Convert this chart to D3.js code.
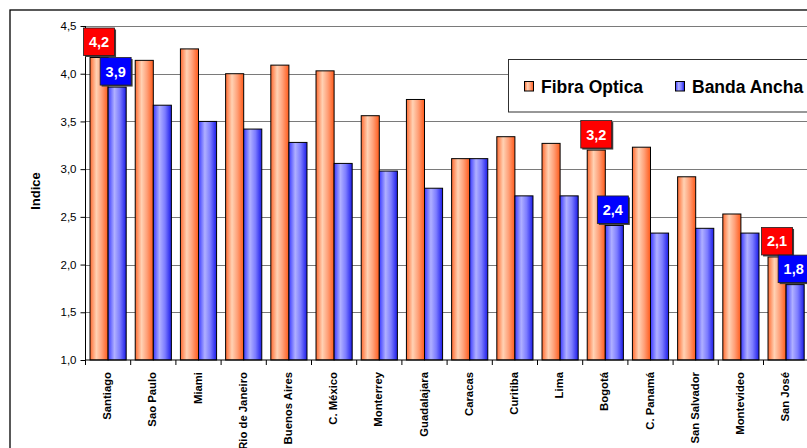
<!DOCTYPE html>
<html>
<head>
<meta charset="utf-8">
<script src="https://cdn.jsdelivr.net/npm/d3@7"></script>
<style>
  body { margin: 0; background: #fff; }
  svg { display: block; font-family: Arial, "Liberation Sans", sans-serif; }
</style>
</head>
<body>
<svg id="chart"></svg>
<script>
var ciudades = ["Santiago", "Sao Paulo", "Miami", "Rio de Janeiro", "Buenos Aires", "C. México",
  "Monterrey", "Guadalajara", "Caracas", "Curitiba", "Lima", "Bogotá", "C. Panamá",
  "San Salvador", "Montevideo", "San José"];
var fibraOptica = [4.17, 4.14, 4.26, 4.00, 4.09, 4.03, 3.56, 3.73, 3.11, 3.34, 3.27, 3.20, 3.23, 2.92, 2.53, 2.08];
var bandaAncha = [3.86, 3.67, 3.50, 3.42, 3.28, 3.06, 2.98, 2.80, 3.11, 2.72, 2.72, 2.41, 2.33, 2.38, 2.33, 1.79];
var series = ["Fibra Optica", "Banda Ancha"];
var yTicks = [1.0, 1.5, 2.0, 2.5, 3.0, 3.5, 4.0, 4.5];
// cities whose values get a callout box
var destacados = ["Santiago", "Bogotá", "San José"];

var screen = {width: 807, height: 448};
var plot = {left: 85.5, top: 26, right: 808.7, bottom: 360};

var svg = d3.select("#chart")
  .attr("width", screen.width)
  .attr("height", screen.height);

var defs = svg.append("defs");
var grad = function(id, stops) {
  var g = defs.append("linearGradient").attr("id", id)
    .attr("x1", "0%").attr("x2", "100%").attr("y1", "0%").attr("y2", "0%");
  stops.forEach(function(s) {
    g.append("stop").attr("offset", s[0]).attr("stop-color", s[1]);
  });
};
grad("gOrange", [["0%", "#ff6a30"], ["35%", "#ffd2b4"], ["65%", "#ffa078"], ["100%", "#ff5a1a"]]);
grad("gBlue", [["0%", "#3a3aff"], ["35%", "#b0b0ff"], ["65%", "#7c7cff"], ["100%", "#1c1ce8"]]);

// outer frame
svg.append("rect")
  .attr("x", 10).attr("y", 10)
  .attr("width", 900).attr("height", 500)
  .attr("fill", "#fff").attr("stroke", "#000").attr("stroke-width", 1.3);

var xScale = d3.scaleBand().domain(ciudades).range([plot.left, plot.right]).paddingInner(0.2).paddingOuter(0.1);
var xSub = d3.scaleBand().domain(series).range([0, xScale.bandwidth()]);
var yScale = d3.scaleLinear().domain([1, 4.5]).range([plot.bottom, plot.top]);

// gridlines
svg.append("g")
  .selectAll("line")
  .data(yTicks.slice(1))
  .enter()
  .append("line")
  .attr("x1", plot.left).attr("x2", plot.right)
  .attr("y1", function(d) { return Math.round(yScale(d)) + 0.5; })
  .attr("y2", function(d) { return Math.round(yScale(d)) + 0.5; })
  .attr("stroke", "#7a7a7a").attr("stroke-width", 1);

// bars
var rows = ciudades.map(function(c, i) {
  return {ciudad: c, vals: [fibraOptica[i], bandaAncha[i]]};
});
var fills = ["url(#gOrange)", "url(#gBlue)"];

var groups = svg.append("g")
  .selectAll("g")
  .data(rows)
  .enter()
  .append("g")
  .attr("transform", function(d) { return "translate(" + xScale(d.ciudad) + ",0)"; });

groups.selectAll("rect")
  .data(function(d) { return d.vals.map(function(v, k) { return {serie: series[k], v: v, k: k}; }); })
  .enter()
  .append("rect")
  .attr("x", function(d) { return xSub(d.serie); })
  .attr("y", function(d) { return yScale(d.v); })
  .attr("width", xSub.bandwidth())
  .attr("height", function(d) { return plot.bottom - yScale(d.v); })
  .attr("fill", function(d) { return fills[d.k]; })
  .attr("stroke", "#000").attr("stroke-width", 1);

// axes
var yAxis = d3.axisLeft(yScale).tickValues(yTicks).tickSize(5).tickPadding(4)
  .tickFormat(function(d) { return d3.format(".1f")(d).replace(".", ","); });
var gy = svg.append("g").attr("transform", "translate(" + plot.left + ",0)").call(yAxis);
gy.select(".domain").attr("stroke", "#000").attr("d", "M0," + plot.top + "V" + plot.bottom);
gy.selectAll("text").attr("font-size", 11.5).attr("fill", "#000").attr("font-family", "Arial, Liberation Sans, sans-serif");

var xAxis = d3.axisBottom(xScale).tickSize(0).tickFormat("");
var gx = svg.append("g").attr("transform", "translate(0," + plot.bottom + ")").call(xAxis);
gx.select(".domain").attr("stroke", "#000").attr("d", "M" + plot.left + ",0H" + plot.right);

// tick marks between categories
var step = xScale.step();
gx.selectAll("line.sep")
  .data(d3.range(ciudades.length + 1))
  .enter()
  .append("line")
  .attr("x1", function(i) { return xScale(ciudades[0]) - step * 0.1 + i * step; })
  .attr("x2", function(i) { return xScale(ciudades[0]) - step * 0.1 + i * step; })
  .attr("y1", 0).attr("y2", 5)
  .attr("stroke", "#000");

// category labels
svg.append("g")
  .selectAll("text")
  .data(ciudades)
  .enter()
  .append("text")
  .attr("transform", function(d) {
    return "translate(" + (xScale(d) + xScale.bandwidth() / 2 + 3) + ",372) rotate(-90)";
  })
  .attr("text-anchor", "end")
  .attr("font-size", 11.3)
  .attr("font-weight", "bold")
  .text(function(d) { return d; });

// y title
svg.append("text")
  .attr("transform", "translate(40,191) rotate(-90)")
  .attr("text-anchor", "middle")
  .attr("font-size", 13)
  .attr("font-weight", "bold")
  .text("Indice");

// callout boxes
var boxColors = ["#ff0000", "#0000ff"];
var callouts = [];
rows.forEach(function(r) {
  if (destacados.indexOf(r.ciudad) >= 0) {
    r.vals.forEach(function(v, k) {
      callouts.push({ciudad: r.ciudad, v: v, k: k});
    });
  }
});
var cg = svg.append("g")
  .selectAll("g")
  .data(callouts)
  .enter()
  .append("g")
  .attr("transform", function(d) {
    var cx = xScale(d.ciudad) + xSub(series[d.k]) + xSub.bandwidth() / 2 - (d.k === 1 ? 1.5 : 0);
    return "translate(" + cx + "," + (yScale(d.v) - 2) + ")";
  });
cg.append("rect")
  .attr("x", -15.5 + 1.5).attr("y", -27.5 + 1.5).attr("width", 31).attr("height", 27.5)
  .attr("fill", "#404040");
cg.append("rect")
  .attr("x", -15.5).attr("y", -27.5).attr("width", 31).attr("height", 27.5)
  .attr("fill", function(d) { return boxColors[d.k]; })
  .attr("stroke", "#202020").attr("stroke-width", 0.8);
cg.append("text")
  .attr("x", 0).attr("y", -8.5)
  .attr("text-anchor", "middle")
  .attr("fill", "#fff")
  .attr("font-size", 14.5)
  .attr("font-weight", "bold")
  .text(function(d) { return d3.format(".1f")(d.v).replace(".", ","); });

// legend
var leg = svg.append("g");
leg.append("rect")
  .attr("x", 508.5).attr("y", 59.5).attr("width", 330).attr("height", 52.5)
  .attr("fill", "#fff").attr("stroke", "#303030").attr("stroke-width", 1);
var legX = [524.5, 675.5];
series.forEach(function(s, k) {
  leg.append("rect")
    .attr("x", legX[k]).attr("y", 81.5).attr("width", 9).attr("height", 9.5)
    .attr("fill", fills[k]).attr("stroke", "#000").attr("stroke-width", 1);
  leg.append("text")
    .attr("x", legX[k] + 16.5).attr("y", 92.5)
    .attr("font-size", 17.5)
    .attr("font-weight", "bold")
    .text(s);
});
</script>
</body>
</html>
